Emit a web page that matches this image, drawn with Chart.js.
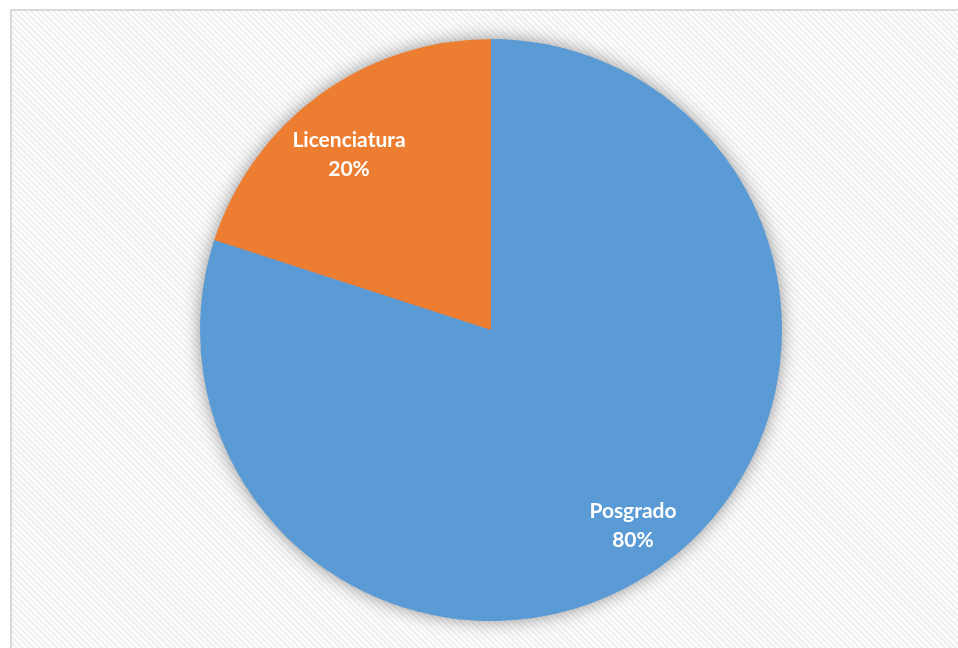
<!DOCTYPE html>
<html>
<head>
<meta charset="utf-8">
<script src="https://cdn.jsdelivr.net/npm/chart.js@4/dist/chart.umd.min.js"></script>
<style>
    html, body { margin: 0; padding: 0; background: #ffffff; overflow: hidden; width: 958px; height: 648px; }
    #frame {
        position: absolute;
        left: 10px;
        top: 9px;
        width: 1100px;
        height: 800px;
        border: 2px solid #d9d9d9;
        background: repeating-linear-gradient(45deg, #fdfdfd 0px, #fdfdfd 2px, #f0f0f0 2px, #f0f0f0 4px);
    }
    #wrap { position: absolute; left: 0; top: 0; width: 958px; height: 648px; }
</style>
</head>
<body>
<div id="frame"></div>
<div id="wrap"><canvas id="pieChart" width="958" height="648"></canvas></div>
<script>
// Degree split
const categories = ['Posgrado', 'Licenciatura'];
const shares = [80, 20];
const sliceColors = ['#5b9bd5', '#ed7d31'];

// Soft drop shadow behind the whole pie
const pieShadow = {
    id: 'pieShadow',
    beforeDatasetsDraw(chart) {
        const arc = chart.getDatasetMeta(0).data[0];
        if (!arc) return;
        const ctx = chart.ctx;
        ctx.save();
        ctx.shadowColor = 'rgba(0, 0, 0, 0.45)';
        ctx.shadowBlur = 18;
        ctx.fillStyle = '#5b9bd5';
        ctx.beginPath();
        ctx.arc(arc.x, arc.y, arc.outerRadius - 1, 0, Math.PI * 2);
        ctx.fill();
        ctx.restore();
    }
};

// Name + percentage inside each slice
const sliceLabels = {
    id: 'sliceLabels',
    afterDatasetsDraw(chart) {
        const ctx = chart.ctx;
        const meta = chart.getDatasetMeta(0);
        const total = shares.reduce((a, b) => a + b, 0);
        const lineGap = 29;
        ctx.save();
        ctx.fillStyle = '#ffffff';
        ctx.font = 'bold 21px Lato, "Open Sans", sans-serif';
        ctx.textAlign = 'center';
        ctx.textBaseline = 'middle';
        meta.data.forEach((arc, i) => {
            const mid = (arc.startAngle + arc.endAngle) / 2;
            const r = arc.outerRadius * 0.83;
            const x = arc.x + Math.cos(mid) * r;
            let y = arc.y + Math.sin(mid) * r;
            // keep the text block clear of the rim on the upper half
            if (y < arc.y) y += lineGap * 0.7;
            const pct = Math.round(shares[i] / total * 100) + '%';
            ctx.fillText(categories[i], x, y - lineGap / 2);
            ctx.fillText(pct, x, y + lineGap / 2);
        });
        ctx.restore();
    }
};

new Chart(document.getElementById('pieChart'), {
    type: 'pie',
    data: {
        labels: categories,
        datasets: [{
            data: shares,
            backgroundColor: sliceColors,
            borderWidth: 0
        }]
    },
    options: {
        responsive: false,
        animation: false,
        layout: {
            padding: { left: 200, right: 176, top: 39, bottom: 27 }
        },
        plugins: {
            legend: { display: false },
            tooltip: { enabled: false }
        }
    },
    plugins: [pieShadow, sliceLabels]
});
</script>
</body>
</html>
